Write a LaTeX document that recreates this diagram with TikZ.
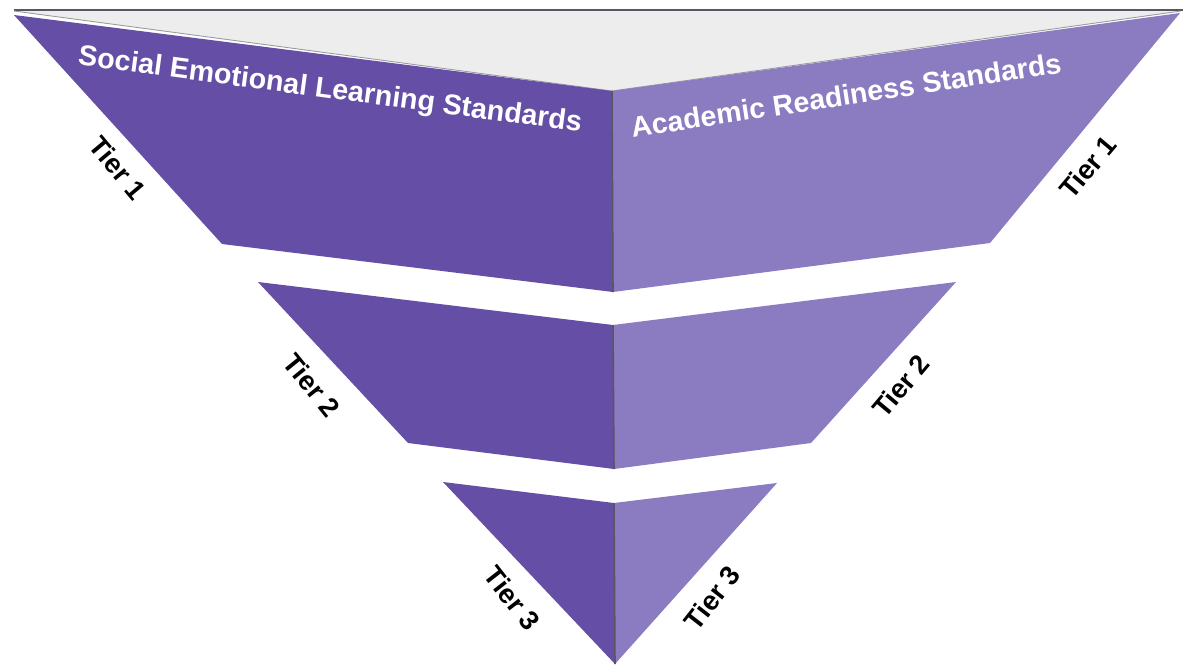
\documentclass[tikz,border=0pt]{standalone}
\usepackage{fontspec}
\setmainfont{Liberation Sans}
\usetikzlibrary{calc,positioning}

\definecolor{semdark}{RGB}{101,78,165}
\definecolor{arlight}{RGB}{139,123,192}
\definecolor{topgray}{RGB}{237,237,237}
\definecolor{edgegray}{RGB}{88,86,100}

\begin{document}
\begin{tikzpicture}[x=0.02cm, y=-0.02cm,
    semface/.style={fill=semdark},
    arface/.style={fill=arlight},
    ridge/.style={draw=edgegray, line width=0.9pt},
    title/.style={text=white, font=\bfseries\fontsize{16.3}{19}\selectfont, inner sep=0pt},
    tier/.style={text=black, font=\bfseries\fontsize{15.5}{18}\selectfont, inner sep=0pt}]
        \useasboundingbox (0,0) rectangle (1183,666);
        %% Top face
        \coordinate (topl) at (14,11);
        \coordinate (topr) at (1181,11);
        \coordinate (topc) at (612,91);
        \fill[topgray] (topl) -- (topr) -- (topc) -- cycle;
        \draw[edgegray, line width=1.6pt] (14,10) -- (1183,10);
        \draw[edgegray!60, line width=0.5pt] (topl) -- (topc) -- (topr);

        %% Tier 1
        \coordinate (t1l) at (14,15);
        \coordinate (t1r) at (1180,13);
        \coordinate (t1bl) at (222,244);
        \coordinate (t1bc) at (613,292);
        \coordinate (t1br) at (990,243);
        \fill[semface] (t1l) -- (topc) -- (t1bc) -- (t1bl) -- cycle;
        \fill[arface] (topc) -- (t1r) -- (t1br) -- (t1bc) -- cycle;
        \draw[ridge] (topc) -- (t1bc);

        %% Tier 2
        \coordinate (t2l) at (258,282);
        \coordinate (t2c) at (613,325);
        \coordinate (t2r) at (956,282);
        \coordinate (t2bl) at (408,443);
        \coordinate (t2bc) at (614,469);
        \coordinate (t2br) at (811,443);
        \fill[semface] (t2l) -- (t2c) -- (t2bc) -- (t2bl) -- cycle;
        \fill[arface] (t2c) -- (t2r) -- (t2br) -- (t2bc) -- cycle;
        \draw[ridge] (t2c) -- (t2bc);

        %% Tier 3
        \coordinate (t3l) at (443,482);
        \coordinate (t3c) at (614,503);
        \coordinate (t3r) at (777,483);
        \coordinate (apex) at (615,664);
        \fill[semface] (t3l) -- (t3c) -- (apex) -- cycle;
        \fill[arface] (t3c) -- (t3r) -- (apex) -- cycle;
        \draw[ridge] (t3c) -- (apex);

        %% Standards
        \node[title, rotate=-7.6] (sel) at (330,91) {Social Emotional Learning Standards};
        \node[title, rotate=8.6] (ars) at (846,95) {Academic Readiness Standards};

        %% Tier labels
        \node[tier, rotate=-50] (tier1l) at (118,168) {Tier 1};
        \node[tier, rotate=50] (tier1r) at (1088,167) {Tier 1};
        \node[tier, rotate=-51] (tier2l) at (312,385) {Tier 2};
        \node[tier, rotate=50] (tier2r) at (901,386) {Tier 2};
        \node[tier, rotate=-52] (tier3l) at (512,598) {Tier 3};
        \node[tier, rotate=52] (tier3r) at (712,598) {Tier 3};
\end{tikzpicture}
\end{document}
